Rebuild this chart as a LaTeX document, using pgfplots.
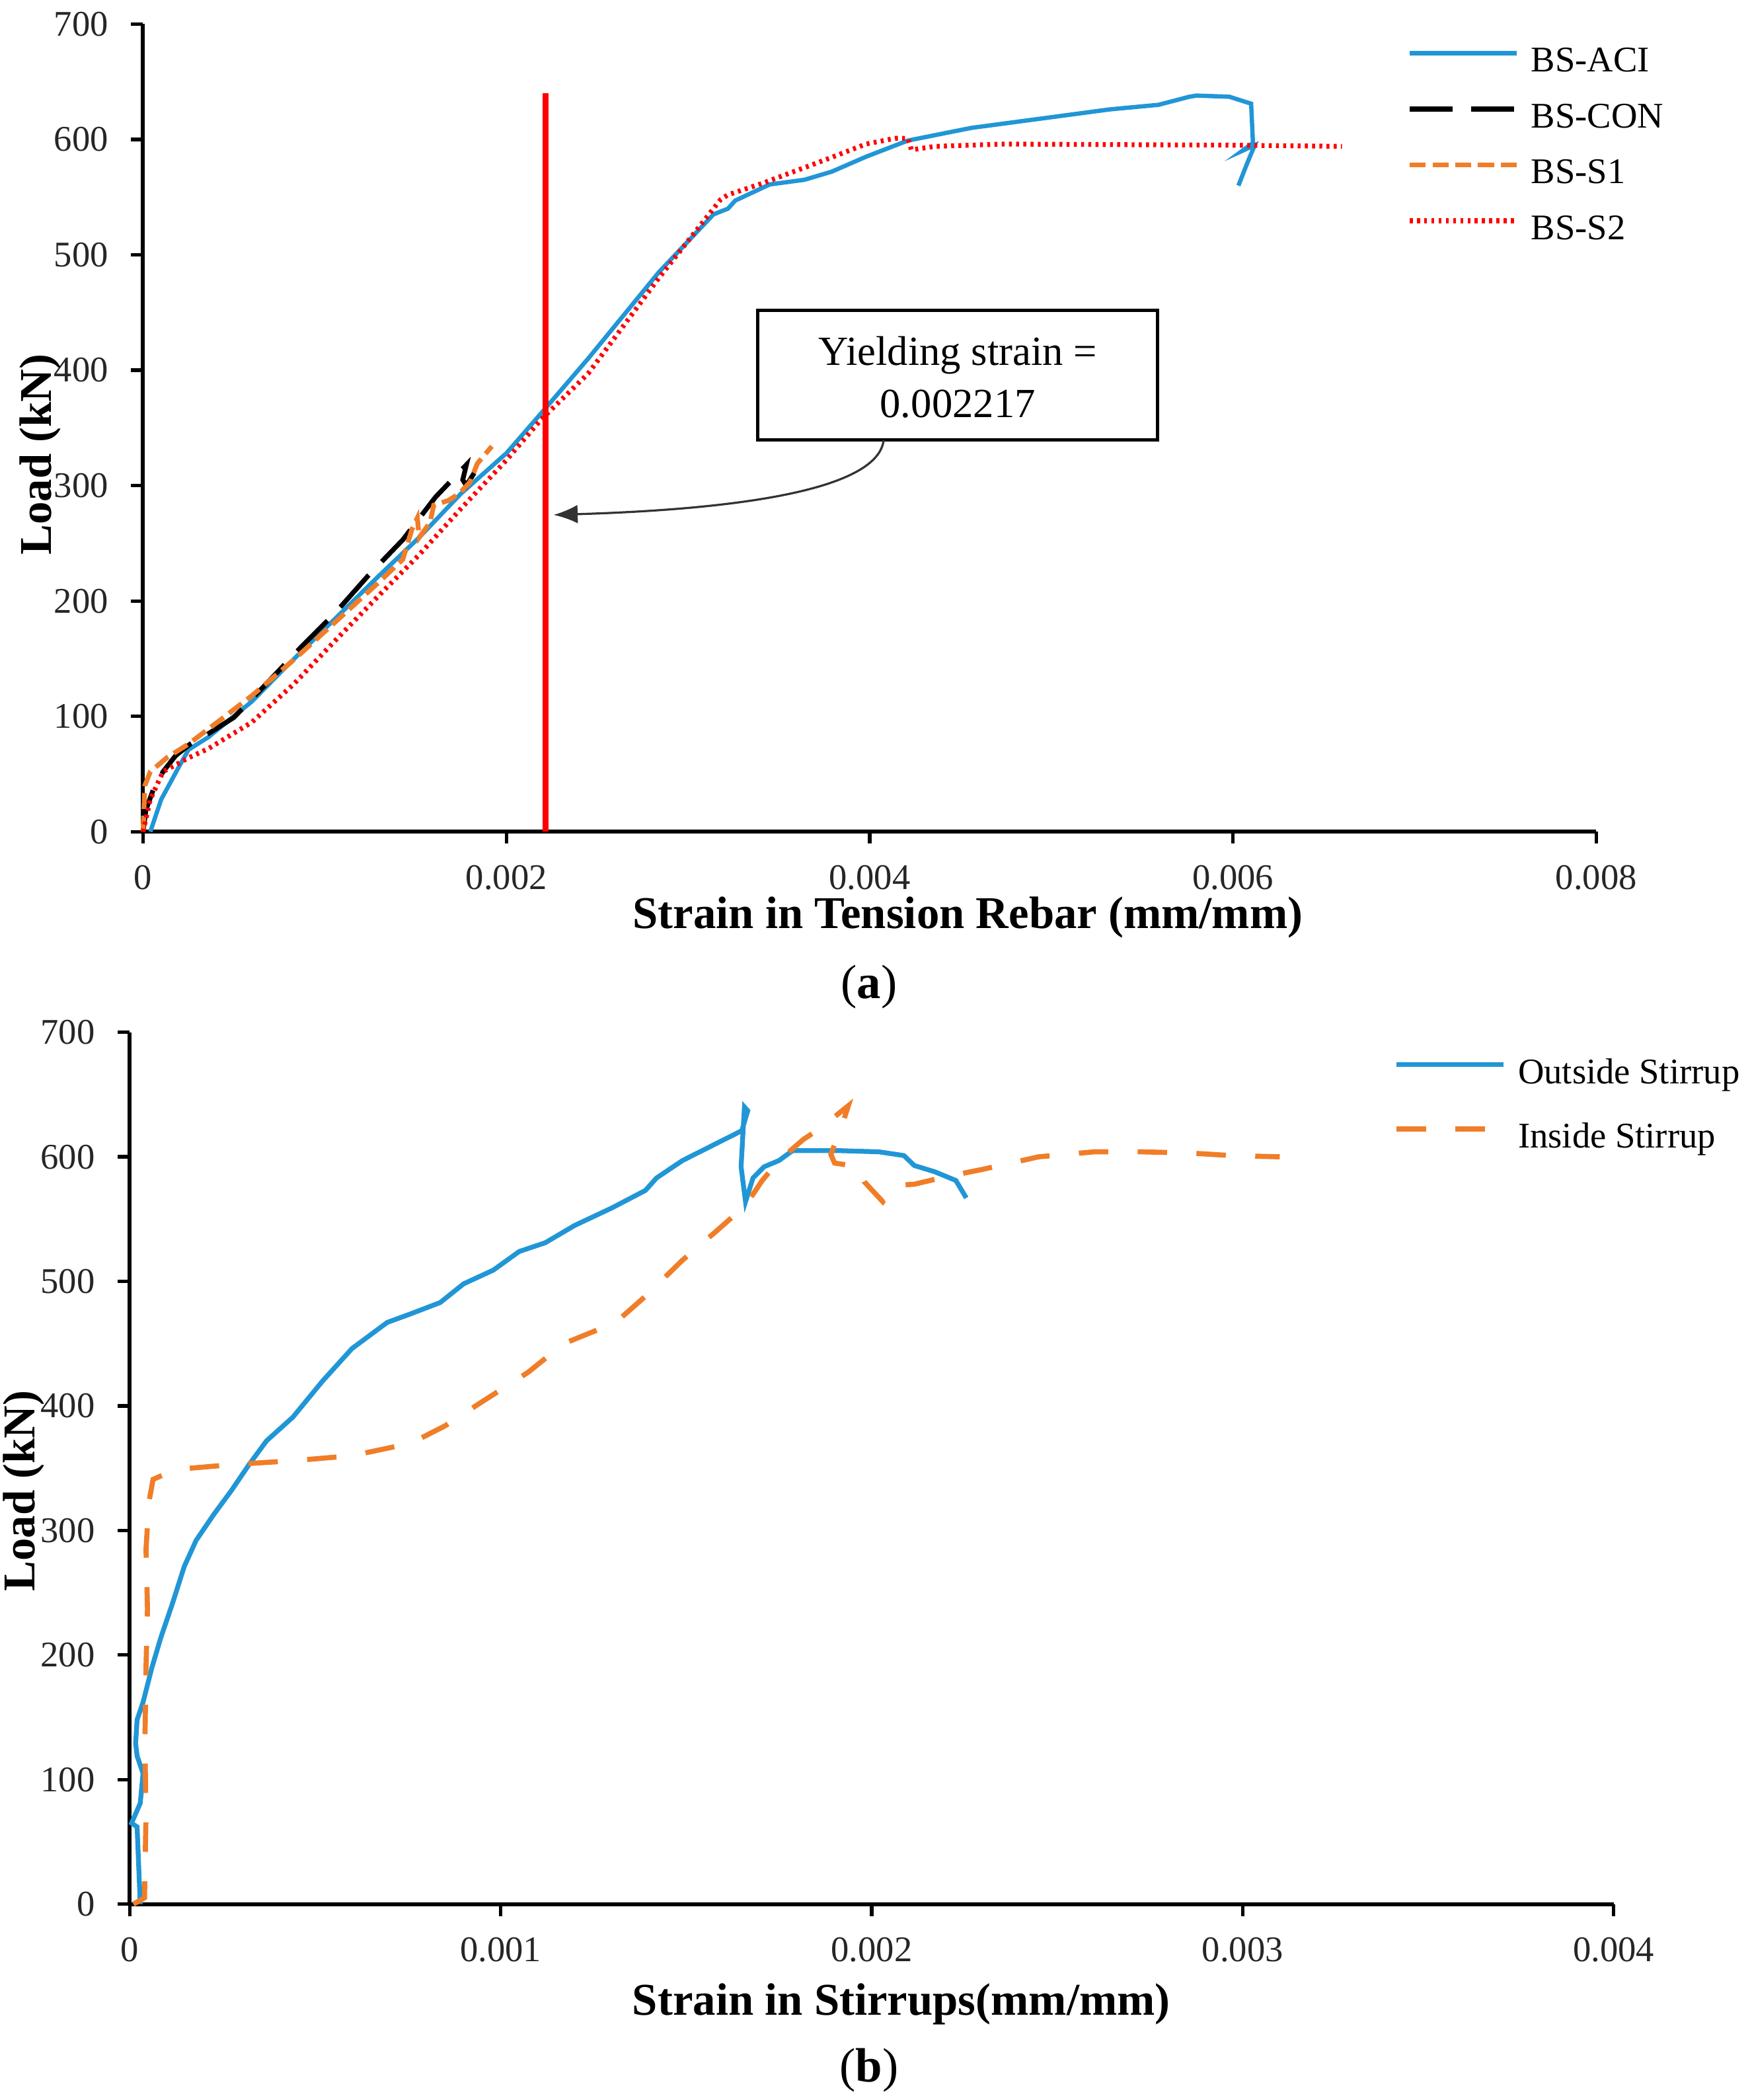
\documentclass[border=0pt]{standalone}
\usepackage{fontspec}
\setmainfont{Liberation Serif}
\usepackage{pgfplots}
\pgfplotsset{compat=1.18}
\usetikzlibrary{arrows.meta}
\definecolor{cblue}{RGB}{33,150,214}
\definecolor{corange}{RGB}{240,125,40}
\definecolor{cred}{RGB}{255,0,0}

\pgfplotsset{
 myaxis/.style={
  scale only axis,
  axis lines*=left,
  axis line style={line width=1.5pt, black},
  tick align=outside,
  major tick length=4.5pt,
  every tick/.style={line width=1.3pt, black},
  ymin=0, ymax=700, ytick={0,100,...,700},
  tick label style={font=\fontsize{13.5}{15}\selectfont, text=black!85},
  /pgf/number format/assume math mode=true,
  scaled x ticks=false,
  xticklabel style={yshift=-4.5pt},
  yticklabel style={xshift=-5pt},
  label style={font=\fontsize{17}{20}\bfseries\selectfont},
  clip=false,
  legend cell align=left,
  legend style={draw=none, fill=none, inner sep=0pt, outer sep=0pt,
     font=\fontsize{13.5}{16}\selectfont, anchor=north west,
     nodes={inner sep=0pt, text height=10pt, text depth=3pt},
     /tikz/every odd column/.append style={column sep=4.5pt}},
  legend image code/.code={\draw[#1] (0pt,3.5pt) -- (40pt,3.5pt);},
 }
}

\begin{document}
\begin{tikzpicture}
\path[use as bounding box] (0,0) rectangle (655pt,785.25pt);

% ---------------- panel (a)
\begin{axis}[myaxis, at={(53.5pt,474.25pt)}, anchor=south west,
  width=543.5pt, height=302pt,
  xmin=0, xmax=0.008,
  xtick={0,0.002,0.004,0.006,0.008},
  xticklabels={0,0.002,0.004,0.006,0.008},
  xlabel={Strain in Tension Rebar (mm/mm)},
  xlabel style={at={(axis description cs:0.5676,-0.12)}, anchor=base},
  ylabel={Load (kN)},
  ylabel style={at={(axis description cs:-0.0708,0.467)}, anchor=center},
  legend style={at={(axis description cs:0.870,0.974)}, row sep=7.9pt},
]
\addplot[cblue, line width=1.6pt] coordinates {
(0.00004,0) (0.0001,28) (0.0002,57) (0.00025,71) (0.00036,82) (0.0006,113) (0.0008,145)
(0.00106,185) (0.0013,222) (0.00152,255) (0.00175,293) (0.002,328) (0.00221,366)
(0.00245,410) (0.00284,485) (0.00314,535) (0.00322,540) (0.00326,547) (0.00345,561)
(0.00364,565) (0.00379,572) (0.00398,585) (0.00421,599) (0.00456,610) (0.00494,618)
(0.00532,626) (0.00559,630) (0.00576,637) (0.0058,638) (0.00598,637) (0.0061,631)
(0.00611,597) (0.00605,590) (0.00612,595) (0.00608,580) (0.00603,560)};
\addlegendentry{BS-ACI}
\addplot[black, line width=1.8pt, dash pattern=on 16pt off 7pt] coordinates {
(0,0) (0.000016,19) (0.00006,38) (0.00011,52) (0.00018,66) (0.00026,76) (0.00036,85)
(0.0005,99) (0.00069,130) (0.00087,160) (0.00106,190) (0.00124,222) (0.00143,253)
(0.00161,290) (0.00178,318) (0.00176,305) (0.00178,300) (0.00187,323)};
\addlegendentry{BS-CON}
\addplot[corange, line width=1.8pt, dash pattern=on 6pt off 2.5pt] coordinates {
(0,0) (0.00001,40) (0.00004,52) (0.00013,64) (0.00025,76) (0.00041,95) (0.0006,118)
(0.00083,149) (0.00106,182) (0.00129,215) (0.00143,236) (0.00148,262) (0.00151,272)
(0.00152,255) (0.00158,268) (0.0016,283) (0.00168,287) (0.00174,293) (0.0018,303)
(0.00184,319) (0.00192,334)};
\addlegendentry{BS-S1}
\addplot[cred, line width=1.8pt, dash pattern=on 1.1pt off 1.6pt] coordinates {
(0,0) (0.00004,28) (0.00011,52) (0.00025,64) (0.00036,72) (0.0006,95) (0.00083,128)
(0.00106,166) (0.0013,205) (0.00152,240) (0.00175,280) (0.002,322) (0.00219,357)
(0.00245,397) (0.00284,480) (0.00318,548) (0.00322,552) (0.00341,562) (0.00375,582)
(0.00398,596) (0.00414,601) (0.00421,601) (0.00423,591) (0.00436,594) (0.00474,596)
(0.006,595) (0.0066,594)};
\addlegendentry{BS-S2}
\addplot[cred, line width=2.2pt, forget plot] coordinates {(0.002217,0) (0.002217,640)};
\draw[line width=1.3pt] (axis cs:0.003385,452) rectangle (axis cs:0.005585,339.5);
\node[align=center, font=\fontsize{15.5}{19.5}\selectfont] at (axis cs:0.004485,394) {Yielding strain =\\0.002217};
\draw[line width=0.8pt, black!80, -{Latex[length=9pt,width=7pt]}] (axis cs:0.004077,339.5)
  .. controls (axis cs:0.00405,300) and (axis cs:0.0034,280) .. (axis cs:0.00226,274.6);
\end{axis}
\node[font=\fontsize{18}{21}\selectfont, anchor=base] at (325pt,412pt) {(\textbf{a})};

% ---------------- panel (b)
\begin{axis}[myaxis, at={(48.5pt,73.25pt)}, anchor=south west,
  width=555pt, height=326pt,
  xmin=0, xmax=0.004,
  xtick={0,0.001,0.002,0.003,0.004},
  xticklabels={0,0.001,0.002,0.003,0.004},
  xlabel={Strain in Stirrups(mm/mm)},
  xlabel style={at={(axis description cs:0.52,-0.127)}, anchor=base},
  ylabel={Load (kN)},
  ylabel style={at={(axis description cs:-0.0712,0.474)}, anchor=center},
  legend style={at={(axis description cs:0.852,0.972)}, row sep=11pt},
]
\addplot[cblue, line width=1.8pt] coordinates {
(0.0000285,0) (0.00002,62) (0.000005,65) (0.0000285,81) (0.000036,105) (0.00002,119)
(0.000016,129) (0.00002,148) (0.000036,162) (0.00006,190) (0.000084,214) (0.000116,242)
(0.000147,271) (0.000179,292) (0.000227,313) (0.000274,332) (0.000322,353) (0.000369,372)
(0.00044,391) (0.00052,420) (0.000599,446) (0.000694,467) (0.000758,474) (0.000837,483)
(0.0009,498) (0.00098,509) (0.00105,524) (0.00112,531) (0.0012,545) (0.0013,559)
(0.00139,573) (0.00142,583) (0.00149,597) (0.00157,609) (0.00165,621) (0.001666,637)
(0.001657,640) (0.001648,592) (0.00166,564) (0.00168,583) (0.00171,592) (0.00175,597)
(0.001787,605) (0.001909,605) (0.00202,604) (0.002087,601) (0.002115,593) (0.00217,588)
(0.002227,581) (0.002255,567)};
\addlegendentry{Outside Stirrup}
\addplot[corange, line width=1.9pt, dash pattern=on 11pt off 11pt] coordinates {
(0.00001,0) (0.00004,5) (0.000044,72) (0.000041,129) (0.000044,190) (0.000048,237)
(0.000044,285) (0.000052,323) (0.000063,341) (0.000124,349) (0.000282,353) (0.00044,356)
(0.000599,360) (0.000758,370) (0.00085,384) (0.000948,403) (0.001074,427) (0.00117,450)
(0.00131,467) (0.00139,488) (0.00149,517) (0.00158,540) (0.00166,561) (0.001705,581)
(0.00175,597) (0.001816,614) (0.001862,623) (0.001937,641) (0.00192,625) (0.00189,602)
(0.0019,595) (0.001965,592) (0.00198,580) (0.00203,564) (0.00206,577) (0.002115,578)
(0.0022,584) (0.0023,590) (0.00245,600) (0.0026,604) (0.00273,604) (0.00286,603)
(0.00297,601) (0.0031,600)};
\addlegendentry{Inside Stirrup}
\end{axis}
\node[font=\fontsize{18}{21}\selectfont, anchor=base] at (325pt,6.75pt) {(\textbf{b})};
\end{tikzpicture}
\end{document}
